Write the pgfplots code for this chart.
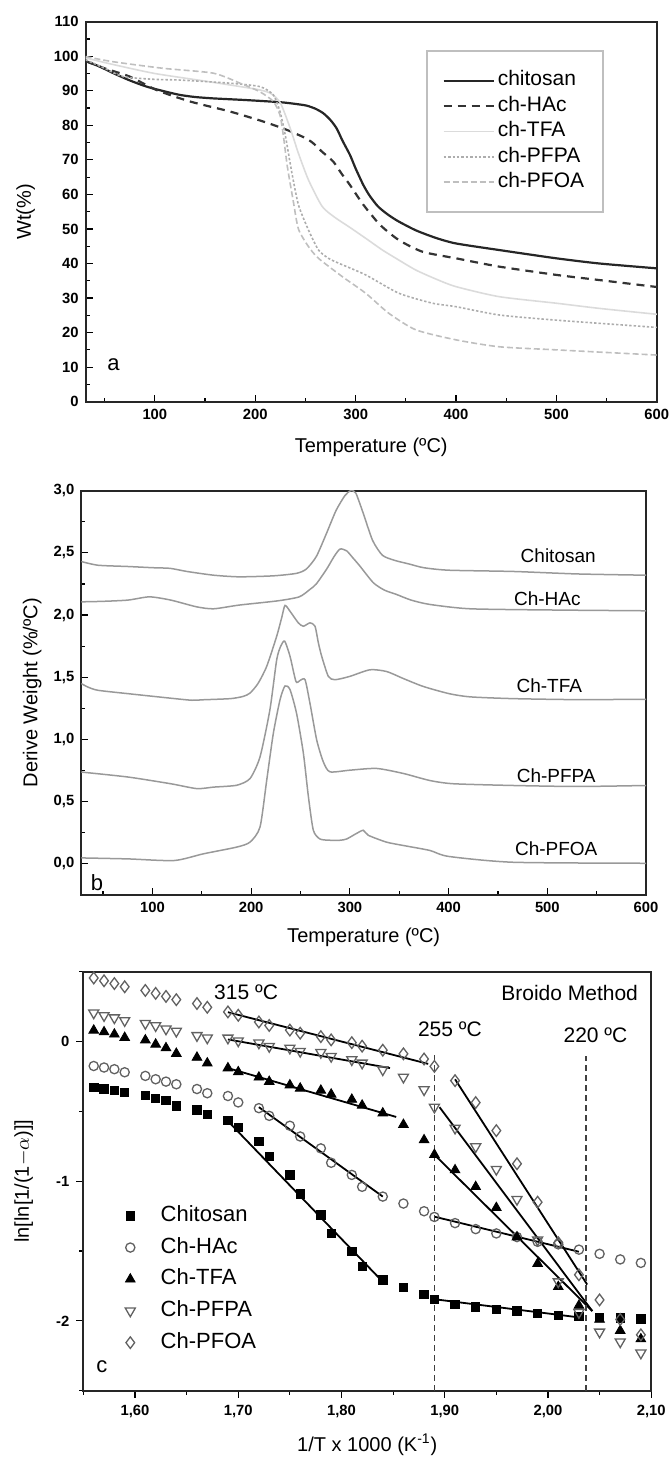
\documentclass[border=0pt]{standalone}
\usepackage{fontspec}
\setmainfont{Liberation Sans}
\usepackage{pgfplots}
\pgfplotsset{compat=1.18}
\definecolor{mkgray}{gray}{0.38}
\pgfplotsset{
  panel/.style={
    scale only axis, anchor=south west,
    axis line style={line width=0.95pt, black!85},
    tick pos=left,
    major tick length=3.5pt, minor tick length=2pt,
    every tick/.style={black, line width=0.6pt},
    tick label style={font=\bfseries\fontsize{7.4}{8}\selectfont},
    /pgf/number format/assume math mode=true,
    label style={font=\fontsize{10.5}{12}\selectfont},
  },
  cleg/.style={legend image code/.code={\path (0pt,-1pt) (27pt,1pt); \draw[mark repeat=2,mark phase=2,##1] plot coordinates {(0pt,0pt)(13.5pt,0pt)(27pt,0pt)};}},
}
\begin{document}
\begin{tikzpicture}
\path[use as bounding box] (0,0) rectangle (335.5pt,731.5pt);
% ---------------- panel a ----------------
\begin{axis}[panel, at={(42.8pt,530.65pt)}, width=285.6pt, height=190pt,
  xmin=31, xmax=600, ymin=0, ymax=110,
  xtick={100,200,300,400,500,600}, minor xtick={50,150,250,350,450,550},
  ytick={0,10,...,110}, minor ytick={5,15,...,105},
  tick align=inside,
  xlabel={Temperature (ºC)}, ylabel={Wt(\%)},
  every axis x label/.style={at={(axis description cs:0.5,0)}, yshift=-23pt, anchor=center},
  every axis y label/.style={at={(axis description cs:-0.105,0.5)}, rotate=90, anchor=center},
  legend style={at={(axis cs:369.8,101.8)}, anchor=north west, draw=black!25, line width=0.9pt, fill=white,
    inner xsep=8pt, inner ysep=8.5pt, font=\fontsize{10.5}{12}\selectfont,
    nodes={inner sep=1.5pt, text height=7.5pt, text depth=2.2pt}, row sep=0pt},
  legend cell align=left,
  legend image code/.code={\draw[#1] (0pt,0pt) -- (25pt,0pt);},
]
\addplot[black!85, line width=1.1pt, smooth, tension=0.4] coordinates {
(31,98.6)(45,97)(58.6,95.1)(75,93)(91.8,91.2)(110,89.8)(125,88.8)(140,88.2)(158,87.8)(191.5,87.3)(224.6,86.7)(240,86.2)(251.2,85.7)(260,84.8)(267.8,83.5)(275,81.5)(281.1,79.1)(287,75.5)(294.4,71.4)(300,67.5)(307.7,62.7)(314,59.6)(322,56.6)(331,54.4)(342,52.3)(360,49.6)(380,47.4)(400,45.8)(443,43.9)(500,41.5)(543,40)(600,38.6)};
\addlegendentry{chitosan}
\addplot[black!80, line width=1.1pt, dash pattern=on 4pt off 3pt, smooth, tension=0.4] coordinates {
(31,98.6)(50,96.5)(75,94.1)(101.8,90.2)(135,86.9)(174.8,84)(208,81.1)(231.3,78.7)(250,76.3)(257.8,74.8)(266,72.5)(277.7,69.5)(286,66)(294.4,62.7)(307.7,57)(324.3,51.2)(343,46.8)(366.7,43.4)(400,41.5)(443,39.1)(500,36.7)(543,35.2)(600,33.2)};
\addlegendentry{ch-HAc}
\addplot[black!14, line width=0.8pt, smooth, tension=0.4] coordinates {
(31,99.5)(60,97.5)(100,95)(150,92.8)(200,90.5)(215,89.3)(225,86.5)(235,79)(243,71.9)(253,64.2)(266.7,56.5)(280,53.2)(293,50.7)(310,47.3)(326.7,43.9)(343,41)(360,38.1)(380,35.5)(400,33.3)(443,30.4)(500,28.5)(543,27)(600,25.3)};
\addlegendentry{ch-TFA}
\addplot[black!32, line width=0.8pt, dash pattern=on 1.2pt off 1pt, smooth, tension=0.4] coordinates {
(31,99)(50,96.5)(68.5,94.1)(100,93.3)(125,93.1)(174.8,92.2)(204.7,91.2)(218,88.8)(224.6,84)(230,77)(236,67)(243,57)(253,49.7)(263,43.9)(273,41.5)(283,40.1)(310,36.7)(343,31.4)(376.7,28.5)(400,27.5)(443,25.1)(500,23.6)(600,21.5)};
\addlegendentry{ch-PFPA}
\addplot[black!25, line width=0.8pt, dash pattern=on 3pt off 1.5pt, smooth, tension=0.4] coordinates {
(31,99.9)(58.6,98.4)(108.4,96.5)(158.2,95.1)(184.8,92.2)(204.7,89.7)(218,86.9)(224.6,83)(228,77)(232,68)(237.9,58)(243,50)(253,44.9)(263,41.5)(286.7,36.2)(310,31.4)(333,25.6)(360,20.8)(400,17.9)(443,15.9)(500,15)(600,13.5)};
\addlegendentry{ch-PFOA}
\node[font=\fontsize{11}{13}\selectfont] at (axis cs:58.7,10.6) {a};
\end{axis}
% ---------------- panel b ----------------
\begin{axis}[panel, at={(40.65pt,284pt)}, width=282.4pt, height=202.2pt,
  xmin=28, xmax=600, ymin=-0.25, ymax=3.0,
  xtick={100,200,300,400,500,600}, minor xtick={50,150,250,350,450,550},
  ytick={0,0.5,1,1.5,2,2.5,3}, minor ytick={0.25,0.75,1.25,1.75,2.25,2.75},
  tick align=inside,
  yticklabel style={/pgf/number format/.cd, fixed, fixed zerofill, precision=1, use comma},
  xlabel={Temperature (ºC)}, ylabel={Derive Weight (\%/ºC)},
  every axis x label/.style={at={(axis description cs:0.5,0)}, yshift=-21pt, anchor=center},
  every axis y label/.style={at={(axis description cs:-0.087,0.5)}, rotate=90, anchor=center},
]
\addplot[black!40, line width=0.75pt, smooth, tension=0.4] coordinates {
(28,2.43)(45,2.40)(75,2.39)(101,2.38)(118,2.375)(135,2.35)(162,2.32)(188,2.307)(222.7,2.315)(246,2.335)(256,2.37)(266,2.47)(276,2.65)(286,2.84)(295,2.96)(301,3.0)(306,2.98)(313,2.83)(323,2.6)(333,2.48)(345,2.44)(360,2.41)(375,2.38)(400.5,2.36)(465.6,2.35)(530.6,2.33)(600,2.32)};
\addplot[black!40, line width=0.75pt, smooth, tension=0.4] coordinates {
(28,2.106)(50,2.11)(75.3,2.12)(97,2.146)(118.6,2.12)(144.7,2.066)(162,2.05)(188,2.08)(227,2.114)(248.7,2.146)(259.6,2.206)(266,2.25)(276.4,2.368)(284,2.47)(290,2.53)(296.7,2.516)(303,2.46)(310,2.395)(323.7,2.26)(335,2.20)(347,2.166)(362,2.12)(381,2.085)(422,2.05)(509,2.04)(600,2.034)};
\addplot[black!40, line width=0.75pt, smooth, tension=0.4] coordinates {
(28,1.449)(35,1.42)(44.9,1.395)(75.3,1.368)(118,1.332)(140,1.315)(151.7,1.319)(179,1.328)(192,1.346)(198.9,1.373)(207,1.45)(215.8,1.588)(225.9,1.83)(231,1.98)(234.3,2.077)(239.4,2.03)(247.8,1.937)(252.9,1.91)(259.6,1.937)(264.7,1.91)(268,1.78)(271.4,1.67)(278.2,1.507)(284.9,1.48)(300,1.507)(320.3,1.56)(337.2,1.546)(354,1.49)(374.3,1.426)(400.5,1.368)(422.2,1.342)(465.6,1.328)(530.6,1.32)(600,1.323)};
\addplot[black!40, line width=0.75pt, smooth, tension=0.4] coordinates {
(28,0.738)(75.3,0.698)(118.6,0.644)(145,0.605)(162,0.617)(185.4,0.632)(198.9,0.686)(209,0.86)(219,1.238)(225.9,1.641)(230,1.75)(234,1.79)(239.4,1.668)(245.4,1.466)(249.5,1.474)(254.6,1.48)(259.6,1.29)(266.4,0.996)(273.1,0.82)(279.8,0.74)(300,0.753)(327,0.767)(354,0.727)(381,0.67)(404.9,0.644)(465.6,0.63)(530.6,0.622)(600,0.63)};
\addplot[black!40, line width=0.75pt, smooth, tension=0.4] coordinates {
(28,0.048)(75.3,0.04)(122,0.027)(151.7,0.081)(185.4,0.135)(198.9,0.175)(209,0.296)(215.8,0.673)(222.5,1.05)(229.3,1.32)(234.3,1.43)(239.4,1.40)(246,1.21)(252.9,0.89)(258,0.54)(263,0.27)(269.7,0.20)(279.8,0.19)(290,0.19)(296.7,0.20)(306.8,0.245)(313.6,0.27)(318.6,0.23)(337,0.175)(354,0.148)(381,0.108)(400,0.06)(465.6,0.013)(600,0.005)};
\begin{scope}[font=\fontsize{9.5}{11}\selectfont]
\node at (axis cs:511,2.48) {Chitosan};
\node at (axis cs:500,2.13) {Ch-HAc};
\node at (axis cs:502,1.435) {Ch-TFA};
\node at (axis cs:509,0.71) {Ch-PFPA};
\node at (axis cs:509,0.12) {Ch-PFOA};
\end{scope}
\node[font=\fontsize{11}{13}\selectfont] at (axis cs:44,-0.15) {b};
\end{axis}
% ---------------- panel c ----------------
\begin{axis}[panel, at={(41.7pt,36.15pt)}, width=283.9pt, height=209.5pt,
  xmin=1.55, xmax=2.10, ymin=-2.5, ymax=0.5,
  xtick={1.6,1.7,1.8,1.9,2.0,2.1}, minor xtick={1.55,1.65,1.75,1.85,1.95,2.05},
  ytick={-2,-1,0}, minor ytick={-2.5,-1.5,-0.5,0.5},
  tick align=outside,
  xticklabel style={/pgf/number format/.cd, fixed, fixed zerofill, precision=2, use comma},
  xlabel={1/T x 1000 (K\textsuperscript{-1})}, ylabel={ln[ln[1/(1$-\alpha$)]]},
  every axis x label/.style={at={(axis description cs:0.5,0)}, yshift=-27pt, anchor=center},
  every axis y label/.style={at={(axis description cs:-0.105,0.5)}, rotate=90, anchor=center},
  legend style={at={(axis cs:1.5685,-1.15)}, anchor=north west, draw=none, fill=none, inner sep=0pt,
    font=\fontsize{11}{13}\selectfont,
    nodes={inner sep=1.5pt, text height=8pt, text depth=2.3pt}, row sep=2.55pt},
  legend cell align=left,
]
\addplot[only marks, mark=square*, mark size=2.1pt, black, cleg] coordinates {
(1.56,-0.33)(1.57,-0.34)(1.58,-0.35)(1.59,-0.365)(1.61,-0.385)(1.62,-0.405)(1.63,-0.42)(1.64,-0.46)(1.66,-0.49)(1.67,-0.52)(1.69,-0.565)(1.70,-0.613)(1.72,-0.716)(1.73,-0.823)(1.75,-0.955)(1.76,-1.09)(1.78,-1.24)(1.79,-1.373)(1.81,-1.504)(1.82,-1.61)(1.84,-1.707)(1.86,-1.76)(1.88,-1.81)(1.89,-1.845)(1.91,-1.88)(1.93,-1.90)(1.95,-1.916)(1.97,-1.928)(1.99,-1.947)(2.01,-1.96)(2.03,-1.97)(2.05,-1.975)(2.07,-1.98)(2.09,-1.985)};
\addlegendentry{Chitosan}
\addplot[only marks, mark=o, mark size=2.3pt, mkgray, mark options={line width=0.65pt}, cleg] coordinates {
(1.56,-0.175)(1.57,-0.186)(1.58,-0.198)(1.59,-0.22)(1.61,-0.246)(1.62,-0.27)(1.63,-0.287)(1.64,-0.306)(1.66,-0.34)(1.67,-0.37)(1.69,-0.39)(1.70,-0.436)(1.72,-0.477)(1.73,-0.532)(1.75,-0.603)(1.76,-0.68)(1.78,-0.765)(1.79,-0.868)(1.81,-0.955)(1.82,-1.04)(1.84,-1.11)(1.86,-1.16)(1.88,-1.215)(1.89,-1.256)(1.91,-1.30)(1.93,-1.343)(1.95,-1.374)(1.97,-1.40)(1.99,-1.434)(2.01,-1.452)(2.03,-1.49)(2.05,-1.52)(2.07,-1.56)(2.09,-1.585)};
\addlegendentry{Ch-HAc}
\addplot[only marks, mark=triangle*, mark size=2.8pt, black, cleg] coordinates {
(1.56,0.08)(1.57,0.068)(1.58,0.052)(1.59,0.028)(1.61,0.01)(1.62,-0.02)(1.63,-0.046)(1.64,-0.086)(1.66,-0.114)(1.67,-0.155)(1.69,-0.19)(1.70,-0.218)(1.72,-0.256)(1.73,-0.287)(1.75,-0.312)(1.76,-0.335)(1.78,-0.35)(1.79,-0.378)(1.81,-0.415)(1.82,-0.457)(1.84,-0.513)(1.86,-0.595)(1.88,-0.705)(1.89,-0.81)(1.91,-0.92)(1.93,-1.04)(1.95,-1.19)(1.97,-1.40)(1.99,-1.59)(2.01,-1.756)(2.03,-1.89)(2.05,-1.99)(2.07,-2.07)(2.09,-2.13)};
\addlegendentry{Ch-TFA}
\addplot[only marks, mark=triangle, mark size=2.9pt, mkgray, mark options={rotate=180, line width=0.65pt}, cleg] coordinates {
(1.56,0.205)(1.57,0.186)(1.58,0.17)(1.59,0.15)(1.61,0.13)(1.62,0.114)(1.63,0.09)(1.64,0.074)(1.66,0.043)(1.67,0.026)(1.69,0.025)(1.70,0.005)(1.72,-0.01)(1.73,-0.035)(1.75,-0.047)(1.76,-0.07)(1.78,-0.078)(1.79,-0.106)(1.81,-0.13)(1.82,-0.154)(1.84,-0.202)(1.86,-0.255)(1.88,-0.345)(1.89,-0.47)(1.91,-0.62)(1.93,-0.753)(1.95,-0.915)(1.97,-1.13)(1.99,-1.42)(2.01,-1.72)(2.03,-1.94)(2.05,-2.08)(2.07,-2.15)(2.09,-2.23)};
\addlegendentry{Ch-PFPA}
\addplot[only marks, mark=diamond, mark size=2.9pt, mkgray, mark options={line width=0.65pt}, cleg] coordinates {
(1.56,0.455)(1.57,0.435)(1.58,0.415)(1.59,0.392)(1.61,0.366)(1.62,0.345)(1.63,0.323)(1.64,0.30)(1.66,0.272)(1.67,0.245)(1.69,0.212)(1.70,0.188)(1.72,0.14)(1.73,0.115)(1.75,0.082)(1.76,0.06)(1.78,0.035)(1.79,0.012)(1.81,-0.008)(1.82,-0.033)(1.84,-0.062)(1.86,-0.088)(1.88,-0.125)(1.89,-0.178)(1.91,-0.28)(1.93,-0.437)(1.95,-0.638)(1.97,-0.875)(1.99,-1.15)(2.01,-1.44)(2.03,-1.67)(2.05,-1.85)(2.07,-1.99)(2.09,-2.10)};
\addlegendentry{Ch-PFOA}
% fit lines
\addplot[black, line width=0.9pt, forget plot] coordinates {(1.69,-0.57)(1.84,-1.72)};
\addplot[black, line width=0.9pt, forget plot] coordinates {(1.89,-1.845)(2.03,-1.975)};
\addplot[black, line width=0.9pt, forget plot] coordinates {(1.72,-0.47)(1.84,-1.11)};
\addplot[black, line width=0.9pt, forget plot] coordinates {(1.89,-1.254)(2.03,-1.505)};
\addplot[black, line width=0.9pt, forget plot] coordinates {(1.69,-0.19)(1.853,-0.54)};
\addplot[black, line width=0.9pt, forget plot] coordinates {(1.89,-0.81)(2.043,-1.93)};
\addplot[black, line width=0.9pt, forget plot] coordinates {(1.69,0.015)(1.847,-0.19)};
\addplot[black, line width=0.9pt, forget plot] coordinates {(1.895,-0.47)(2.043,-1.93)};
\addplot[black, line width=0.9pt, forget plot] coordinates {(1.69,0.21)(1.884,-0.16)};
\addplot[black, line width=0.9pt, forget plot] coordinates {(1.91,-0.27)(2.038,-1.74)};
% dashed guides
\addplot[black!75, line width=0.7pt, dash pattern=on 3pt off 2pt, forget plot] coordinates {(1.89,-2.5)(1.89,-0.07)};
\addplot[black!75, line width=0.7pt, dash pattern=on 3pt off 2pt, forget plot] coordinates {(2.037,-2.5)(2.037,-0.10)};
\begin{scope}[font=\fontsize{10.5}{12}\selectfont]
\node at (axis cs:1.7076,0.351) {315 ºC};
\node at (axis cs:1.905,0.088) {255 ºC};
\node at (axis cs:2.046,0.048) {220 ºC};
\node at (axis cs:2.021,0.351) {Broido Method};
\node[font=\fontsize{11}{13}\selectfont] at (axis cs:1.568,-2.33) {c};
\end{scope}
\end{axis}
\end{tikzpicture}
\end{document}
